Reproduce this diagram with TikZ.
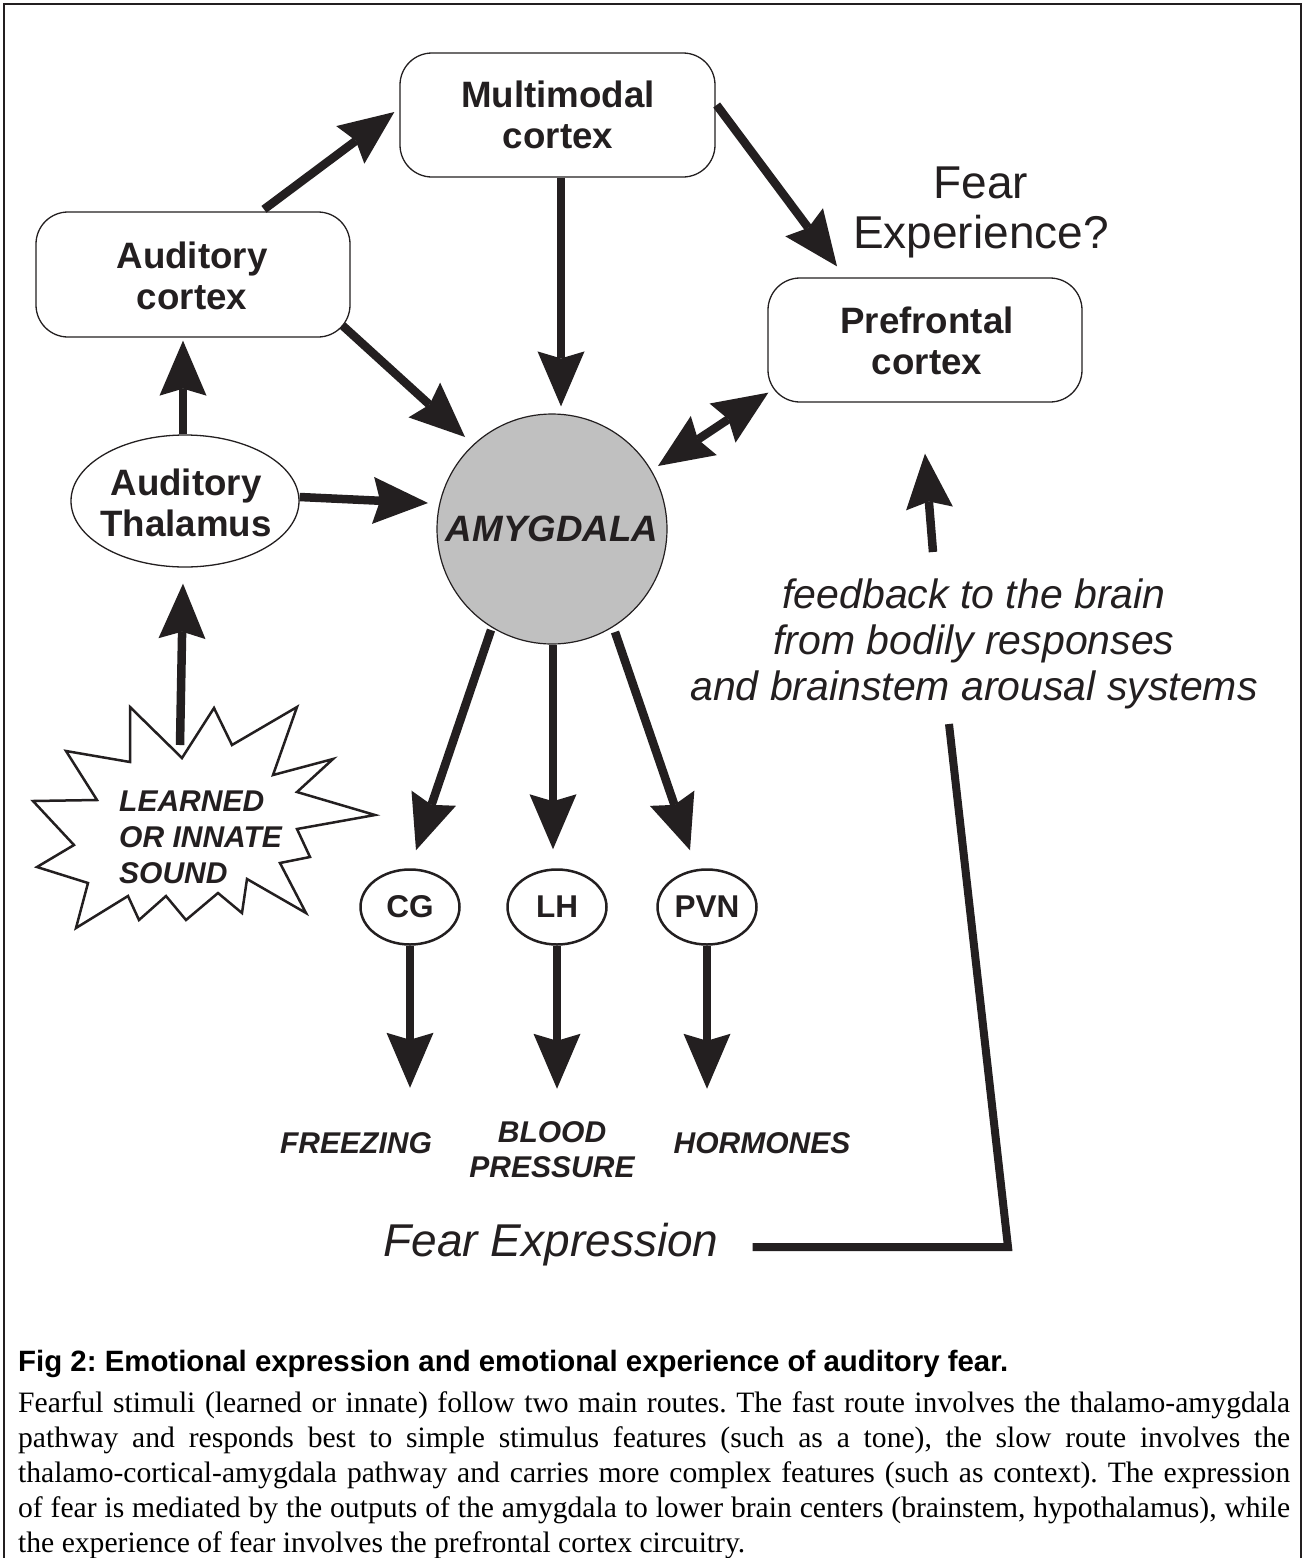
\documentclass[tikz,border=0pt]{standalone}
\usepackage{fontspec}
\setmainfont{Liberation Sans}
\newfontfamily\serifcap{Liberation Serif}
\usetikzlibrary{arrows.meta,shapes.geometric,calc}
\definecolor{ink}{RGB}{35,31,32}
\definecolor{amyfill}{RGB}{192,192,192}
\newcommand{\fsz}[2]{\fontsize{#1}{#2}\selectfont}
\newcommand{\mlc}[1]{\begin{tabular}[t]{@{}c@{}}#1\end{tabular}}
\newcommand{\mll}[1]{\begin{tabular}[t]{@{}l@{}}#1\end{tabular}}
\frenchspacing
\begin{document}
\begin{tikzpicture}[x=1pt,y=1pt,
  box/.style={draw=ink, line width=1.3pt, rounded corners=32pt, minimum width=314pt, minimum height=124pt, inner sep=0pt},
  lbl/.style={inner sep=0pt, anchor=base, text=ink, font=\bfseries\fsz{36.7}{41.5}},
  outlbl/.style={inner sep=0pt, anchor=base, text=ink, font=\bfseries\itshape\fsz{30}{35}},
  nucleus/.style={ellipse, draw=ink, line width=2.5pt, minimum width=99pt, minimum height=75pt, inner sep=0pt, text=ink, font=\bfseries\fsz{31.5}{36}},
  arr/.style={draw=ink, line width=8.5pt, -{Stealth[length=55pt,width=47pt,inset=7pt,line width=0pt]}},
  darr/.style={draw=ink, line width=8.5pt, {Stealth[length=55pt,width=47pt,inset=7pt,line width=0pt]}-{Stealth[length=55pt,width=47pt,inset=7pt,line width=0pt]}},
  thick line/.style={draw=ink, line width=8pt, line join=miter}]
\useasboundingbox (0,0) rectangle (1308,-1558);
\fill[white] (0,0) rectangle (1308,-1558);
% frame
\draw[ink, line width=2pt] (4,-1575) -- (4,-4) -- (1301,-4) -- (1301,-1575);

% boxes
\node[box, minimum width=315pt] (mm) at (557.5,-115) {};
\node[lbl] (mmt) at (558,-107) {\mlc{Multimodal\\cortex}};
\node[box, minimum height=125pt] (ac) at (193,-274.5) {};
\node[lbl] (act) at (192,-268) {\mlc{Auditory\\cortex}};
\node[box] (pf) at (925,-340) {};
\node[lbl] (pft) at (927,-333) {\mlc{Prefrontal\\cortex}};
\node[inner sep=0pt, anchor=base, text=ink, font=\fsz{46}{50}] (fx) at (981,-198) {\mlc{Fear\\Experience?}};

% thalamus and amygdala
\node[ellipse, draw=ink, line width=1.3pt, fill=white, minimum width=228pt, minimum height=132pt, inner sep=0pt] (th) at (185,-501) {};
\node[lbl] (tht) at (186,-495) {\mlc{Auditory\\Thalamus}};
\node[circle, draw=ink, line width=1.2pt, fill=amyfill, minimum size=230pt, inner sep=0pt, text=ink, font=\bfseries\itshape\fsz{36.7}{42}] (amy) at (552,-529) {AMYGDALA};

% sound starburst
\draw[ink, line width=2.5pt, fill=white, line join=miter]
  (130,-707) -- (182,-758) -- (214,-708) -- (232,-745) -- (297,-707) -- (273,-775)
  -- (333,-759) -- (297,-792) -- (375,-815) -- (297,-829) -- (310,-857) -- (280,-863)
  -- (306,-913) -- (247,-879) -- (242,-913) -- (218,-893) -- (186,-920) -- (166,-896)
  -- (139,-920) -- (128,-896) -- (76,-928) -- (88,-883) -- (37,-867) -- (74,-845)
  -- (33,-801) -- (97,-800) -- (66,-751) -- (130,-762) -- cycle;
\coordinate (sndtop) at (180,-745);
\node[inner sep=0pt, anchor=base west, text=ink, font=\bfseries\itshape\fsz{30}{36}] (snd) at (119,-811) {\mll{LEARNED\\OR INNATE\\SOUND}};

% nuclei
\node[nucleus] (cg) at (410,-907) {CG};
\node[nucleus] (lh) at (557,-907) {LH};
\node[nucleus] (pvn) at (707,-907) {PVN};

% outputs
\node[outlbl] (frz) at (356,-1153) {FREEZING};
\node[outlbl] (bp) at (552,-1142) {\mlc{BLOOD\\PRESSURE}};
\node[outlbl] (hor) at (762,-1153) {HORMONES};
\node[inner sep=0pt, anchor=base, text=ink, font=\itshape\fsz{46}{50}] (fe) at (551,-1256) {Fear Expression};

% feedback
\node[inner sep=0pt, anchor=base, text=ink, font=\itshape\fsz{41}{46}] (fb) at (974,-608) {\mlc{feedback to the brain\\from bodily responses\\and brainstem arousal systems}};
\coordinate (fbtop) at (933,-552);
\coordinate (fbbot) at (949,-724);
\coordinate (corner) at (1008,-1247);

% connectors
\draw[arr] ([xshift=71pt,yshift=2pt]ac.north) -- ([xshift=-5pt,yshift=3pt]mm.west);
\draw[arr] ([xshift=3.5pt]mm.south) -- ([xshift=9pt,yshift=7pt]amy.north);
\draw[arr] ([xshift=-8pt,yshift=12pt]ac.south east) -- ($(amy)+(-87,92)$);
\draw[arr] ([xshift=1pt,yshift=10pt]mm.east) -- ([xshift=-88pt,yshift=11pt]pf.north);
\draw[darr] ($(amy)+(106,63)$) -- ([xshift=1pt,yshift=10pt]pf.south west);
\draw[arr] (fbtop) -- ([yshift=-51pt]pf.south);
\draw[arr] ([xshift=-2pt]th.north) -- ([xshift=-10pt,yshift=-3pt]ac.south);
\draw[arr] ([yshift=4pt]th.east) -- ($(amy)+(-124,26)$);
\draw[arr] (sndtop) -- ([xshift=-2pt,yshift=-16pt]th.south);
\draw[arr] ($(amy)+(-61,-101)$) -- ([xshift=6pt,yshift=18pt]cg.north);
\draw[arr] ([xshift=1pt]amy.south) -- ([xshift=-4pt,yshift=19pt]lh.north);
\draw[arr] ($(amy)+(63,-103)$) -- ([xshift=-17pt,yshift=18pt]pvn.north);
\draw[arr] (cg.south) -- ([yshift=-142pt]cg.south);
\draw[arr] (lh.south) -- ([yshift=-143pt]lh.south);
\draw[arr] (pvn.south) -- ([yshift=-143pt]pvn.south);
\draw[thick line] ([xshift=34pt,yshift=9pt]fe.base east) -- (corner) -- (fbbot);

% caption
\node[inner sep=0pt, anchor=base west, text=black, font=\bfseries\fsz{29.4}{35}] (cap) at (18,-1371) {Fig 2: Emotional expression and emotional experience of auditory fear.};
\node[inner sep=0pt, anchor=base west, text=black, font=\serifcap\fsz{29.6}{35.1}] (body) at (18,-1412) {\mll{%
\makebox[1272pt][s]{Fearful stimuli (learned or innate) follow two main routes. The fast route involves the thalamo-amygdala}\\
\makebox[1272pt][s]{pathway and responds best to simple stimulus features (such as a tone), the slow route involves the}\\
\makebox[1272pt][s]{thalamo-cortical-amygdala pathway and carries more complex features (such as context). The expression}\\
\makebox[1272pt][s]{of fear is mediated by the outputs of the amygdala to lower brain centers (brainstem, hypothalamus), while}\\
the experience of fear involves the prefrontal cortex circuitry.}};
\end{tikzpicture}
\end{document}
